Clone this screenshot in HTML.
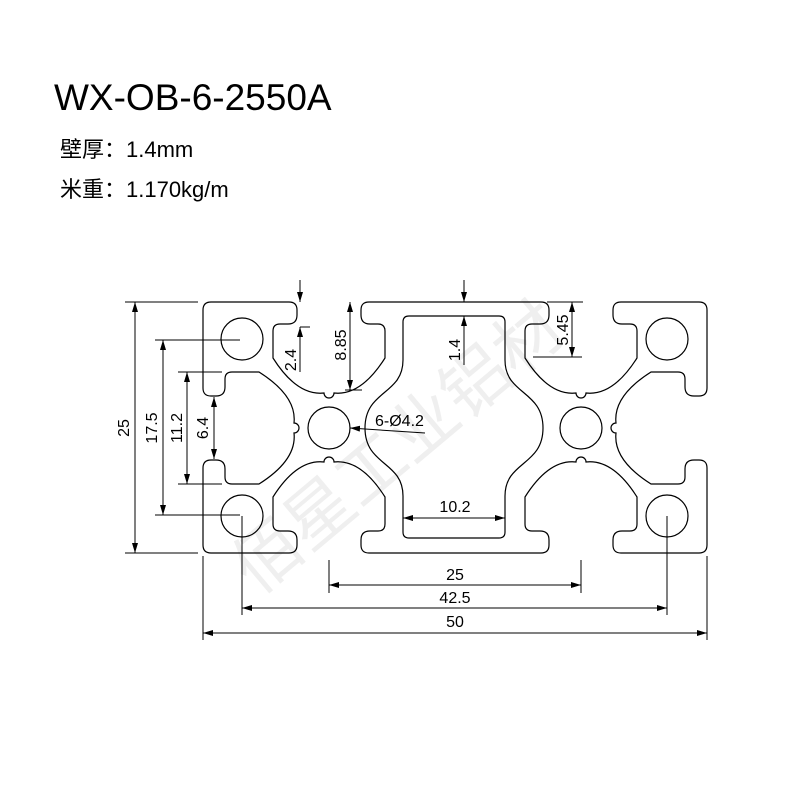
<!DOCTYPE html>
<html><head><meta charset="utf-8"><style>
html,body{margin:0;padding:0;background:#fff}
svg{display:block}
text{font-family:"Liberation Sans","Noto Sans CJK SC",sans-serif;fill:#000}
</style></head><body>
<svg width="800" height="800" viewBox="0 0 800 800" xmlns="http://www.w3.org/2000/svg">
<defs>
<marker id="a" viewBox="0 0 10 6" refX="10" refY="3" markerWidth="10" markerHeight="6" markerUnits="userSpaceOnUse" orient="auto-start-reverse"><path d="M0 0 L10 3 L0 6 z" fill="#000"/></marker>
<path id="slot" d="M-44 0 L-40 0 Q-32 0 -32 8 L-32 13 Q-32 22 -41 22 L-49 22 Q-56 22 -56 29 L-56 56 Q-32 94 -5 91 A5 5 0 0 0 5 91 Q32 94 56 56 L56 29 Q56 22 49 22 L41 22 Q32 22 32 13 L32 8 Q32 0 40 0 L44 0" fill="none" stroke="#000" stroke-width="1.2"/>
</defs>
<text x="400" y="470" font-size="68" style="fill:#efefef" text-anchor="middle" transform="rotate(-40 400 450)">佰星工业铝材</text>
<text x="54" y="110" font-size="37">WX-OB-6-2550A</text>
<text x="60" y="157" font-size="22">壁厚：1.4mm</text>
<text x="60" y="197" font-size="22">米重：1.170kg/m</text>
<g fill="none" stroke="#000" stroke-width="1.2">
<path d="M285 302 L211 302 Q203 302 203 310 L203 384"/>
<path d="M203 472 L203 545 Q203 553 211 553 L285 553"/>
<path d="M373 302 L537 302"/>
<path d="M373 553 L537 553"/>
<path d="M625 302 L699 302 Q707 302 707 310 L707 384"/>
<path d="M707 472 L707 545 Q707 553 699 553 L625 553"/>
<path d="M409 316 L499 316 Q505 316 505 322 L505 360 C505 395 543 390 543 428 C543 466 505 461 505 496 L505 532 Q505 538 499 538 L409 538 Q403 538 403 532 L403 496 C403 461 365 466 365 428 C365 390 403 395 403 360 L403 322 Q403 316 409 316 Z"/>
<circle cx="329" cy="428" r="21"/><circle cx="581" cy="428" r="21"/>
<circle cx="242" cy="339" r="21"/><circle cx="242" cy="516" r="21"/>
<circle cx="667" cy="339" r="21"/><circle cx="667" cy="516" r="21"/>
</g>
<use href="#slot" transform="translate(329,302)"/>
<use href="#slot" transform="translate(581,302)"/>
<use href="#slot" transform="translate(329,553) scale(1,-1)"/>
<use href="#slot" transform="translate(581,553) scale(1,-1)"/>
<use href="#slot" transform="translate(203,428) rotate(-90)"/>
<use href="#slot" transform="translate(707,428) rotate(90)"/>
<g fill="none" stroke="#000" stroke-width="1">
<path d="M125 302 H198 M125 553 H198 M155 340 H240 M155 515 H240 M178 372 H222 M178 484 H222"/>
<line x1="135" y1="302" x2="135" y2="553" marker-start="url(#a)" marker-end="url(#a)"/>
<line x1="163" y1="340" x2="163" y2="515" marker-start="url(#a)" marker-end="url(#a)"/>
<line x1="187" y1="372" x2="187" y2="484" marker-start="url(#a)" marker-end="url(#a)"/>
<line x1="214" y1="397" x2="214" y2="459" marker-start="url(#a)" marker-end="url(#a)"/>
<line x1="300" y1="280" x2="300" y2="302" marker-end="url(#a)"/>
<path d="M300 327 H310"/>
<line x1="300" y1="372" x2="300" y2="327" marker-end="url(#a)"/>
<line x1="350" y1="302" x2="350" y2="390" marker-start="url(#a)" marker-end="url(#a)"/>
<path d="M345 390 H362"/>
<line x1="464" y1="280" x2="464" y2="302" marker-end="url(#a)"/>
<line x1="464" y1="365" x2="464" y2="316" marker-end="url(#a)"/>
<path d="M547 302 H583 M533 357 H582"/>
<line x1="572" y1="302" x2="572" y2="357" marker-start="url(#a)" marker-end="url(#a)"/>
<line x1="425" y1="433" x2="350" y2="428" marker-end="url(#a)"/>
<line x1="403" y1="518" x2="505" y2="518" marker-start="url(#a)" marker-end="url(#a)"/>
<path d="M329 560 V593 M581 560 V593 M242 516 V615 M667 516 V615 M203 556 V640 M707 556 V640"/>
<line x1="329" y1="585" x2="581" y2="585" marker-start="url(#a)" marker-end="url(#a)"/>
<line x1="242" y1="608" x2="667" y2="608" marker-start="url(#a)" marker-end="url(#a)"/>
<line x1="203" y1="633" x2="707" y2="633" marker-start="url(#a)" marker-end="url(#a)"/>
</g>
<g font-size="16">
<text transform="translate(129,428) rotate(-90)" text-anchor="middle">25</text>
<text transform="translate(157,428) rotate(-90)" text-anchor="middle">17.5</text>
<text transform="translate(182,428) rotate(-90)" text-anchor="middle">11.2</text>
<text transform="translate(208,428) rotate(-90)" text-anchor="middle">6.4</text>
<text transform="translate(296,360) rotate(-90)" text-anchor="middle">2.4</text>
<text transform="translate(346,345) rotate(-90)" text-anchor="middle">8.85</text>
<text transform="translate(460,350) rotate(-90)" text-anchor="middle">1.4</text>
<text transform="translate(568,330) rotate(-90)" text-anchor="middle">5.45</text>
<text x="375" y="426">6-Ø4.2</text>
<text x="455" y="512" text-anchor="middle">10.2</text>
<text x="455" y="580" text-anchor="middle">25</text>
<text x="455" y="603" text-anchor="middle">42.5</text>
<text x="455" y="627" text-anchor="middle">50</text>
</g>
</svg>
</body></html>
